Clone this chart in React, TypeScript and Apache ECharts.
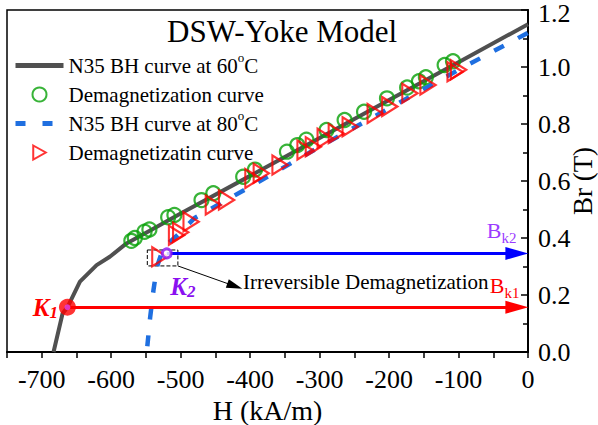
import React, { useEffect, useRef } from "react";
import * as echarts from "echarts";

const SERIF = "'Liberation Serif', 'Times New Roman', serif";

// N35 BH curve at 60°C
const curve60H = [-683, -670, -663, -645, -621, -602, -578, -540, -500, -400, -300, -200, -100, 0];
const curve60B = [0, 0.135, 0.157, 0.247, 0.305, 0.334, 0.381, 0.432, 0.486, 0.618, 0.751, 0.884, 1.017, 1.15];

// Demagnetization curve (circles)
const circH = [-571, -566, -552, -545, -518, -509, -470, -453, -410, -393, -347, -332, -319, -290, -264, -236, -203, -174, -157, -147, -120, -108];
const circB = [0.39, 0.4, 0.422, 0.43, 0.473, 0.481, 0.533, 0.557, 0.615, 0.64, 0.703, 0.726, 0.745, 0.779, 0.814, 0.843, 0.89, 0.928, 0.95, 0.964, 1.007, 1.02];

// N35 BH curve at 80°C
const curve80H = [-548, -544, -539, -534, -527, -516, -500, -480, -400, -300, -200, -100, 0];
const curve80B = [0.02, 0.12, 0.22, 0.3, 0.35, 0.385, 0.42, 0.47, 0.58, 0.72, 0.855, 0.99, 1.12];

// Demagnetizatin curve (triangles)
const triH = [-530, -506, -500, -485, -453, -434, -396, -384, -357, -321, -309, -292, -276, -256, -220, -199, -170, -144, -105, -100];
const triB = [0.334, 0.41, 0.42, 0.457, 0.516, 0.533, 0.609, 0.627, 0.656, 0.709, 0.72, 0.75, 0.767, 0.79, 0.837, 0.861, 0.908, 0.937, 0.983, 0.99];

const K1 = [-663, 0.157];
const K2 = [-520, 0.346];
const boxCorner1 = [-548, 0.358];
const boxCorner2 = [-504, 0.302];
const noteArrowEnd = [-422, 0.231];
const noteAnchor = [-411, 0.246];
const arrowEndH = -16;

const names = [
  "N35 BH curve at 60°C",
  "Demagnetization curve",
  "N35 BH curve at 80°C",
  "Demagnetizatin curve",
];

const TRI_PATH = "path://M0,0L17,9.5L0,19Z";

const zip = (a: number[], b: number[]) => a.map((v, i) => [v, b[i]]);

export default function App() {
  const ref = useRef<HTMLDivElement>(null);
  useEffect(() => {
    document.body.style.margin = "0";
    if (!ref.current) return;
    const chart = echarts.init(ref.current, undefined, { renderer: "svg" });
    const red = "#ff0000";
    const purple = "#8a10f0";
    const violet = "#9b3cff";
    const blue = "#0000ff";
    const gray = "#505050";
    const green = "#06a006";
    const dashBlue = "#1f6fe0";
    const option: any = {
      animation: false,
      title: {
        text: "DSW-Yoke Model",
        left: 167,
        top: 16,
        padding: 0,
        textStyle: { fontFamily: SERIF, fontSize: 31, fontWeight: "normal", color: "#000" },
      },
      legend: {
        data: [
          { name: names[0], itemStyle: { opacity: 0 }, lineStyle: { width: 5, color: gray } },
          { name: names[1] },
          { name: names[2], itemStyle: { opacity: 0 }, lineStyle: { width: 5, color: dashBlue, type: [10, 17] } },
          { name: names[3] },
        ],
        orient: "vertical",
        left: 13,
        top: 51,
        padding: 0,
        itemWidth: 48,
        itemHeight: 14,
        itemGap: 0,
        symbolKeepAspect: true,
        selectedMode: false,
        formatter: (n: string) => n.replace("°", "{sup|o}"),
        textStyle: {
          fontFamily: SERIF,
          fontSize: 21,
          lineHeight: 29,
          color: "#000",
          rich: {
            sup: { fontFamily: SERIF, fontSize: 13, lineHeight: 21, verticalAlign: "top", color: "#000" },
          },
        },
      },
      grid: {
        left: 7,
        right: 70,
        top: 10,
        bottom: 73,
        show: true,
        borderColor: "#000",
        borderWidth: 1.5,
        containLabel: false,
        outerBoundsMode: "none",
      },
      xAxis: {
        type: "value",
        min: -750,
        max: 0,
        interval: 50,
        name: "H (kA/m)",
        nameLocation: "middle",
        nameGap: 44,
        nameMoveOverlap: false,
        nameTextStyle: { fontFamily: SERIF, fontSize: 28, lineHeight: 28, color: "#000" },
        axisLine: { show: true, onZero: false, lineStyle: { color: "#000", width: 2 } },
        axisTick: { show: true, inside: false, length: 6, lineStyle: { color: "#000", width: 1.5 } },
        axisLabel: {
          fontFamily: SERIF,
          fontSize: 26,
          lineHeight: 22,
          color: "#000",
          margin: 16,
          formatter: (v: number) => (Math.round(v) % 100 === 0 ? String(Math.round(v)) : ""),
        },
        splitLine: { show: false },
      },
      yAxis: {
        type: "value",
        position: "right",
        min: 0,
        max: 1.2,
        interval: 0.2,
        name: "Br (T)",
        nameLocation: "middle",
        nameRotate: 90,
        nameGap: 44,
        nameMoveOverlap: false,
        nameTextStyle: { fontFamily: SERIF, fontSize: 27, lineHeight: 22, color: "#000" },
        axisLine: { show: true, lineStyle: { color: "#000", width: 2 } },
        axisTick: { show: true, inside: true, length: 7, lineStyle: { color: "#000", width: 1.5 } },
        minorTick: { show: true, splitNumber: 2, length: 5, lineStyle: { color: "#000", width: 1.5 } },
        axisLabel: {
          fontFamily: SERIF,
          fontSize: 26,
          lineHeight: 16,
          color: "#000",
          margin: 10,
          formatter: (v: number) => (v >= 1.19 ? "{t|" + v.toFixed(1) + "}" : v.toFixed(1)),
          rich: {
            t: { fontFamily: SERIF, fontSize: 26, lineHeight: 16, color: "#000", padding: [6, 0, 0, 0] },
          },
        },
        splitLine: { show: false },
        minorSplitLine: { show: false },
      },
      series: [
        {
          name: names[0],
          type: "line",
          data: zip(curve60H, curve60B),
          symbol: "none",
          lineStyle: { color: gray, width: 4 },
          itemStyle: { color: gray },
          z: 2,
        },
        {
          name: names[1],
          type: "scatter",
          data: zip(circH, circB),
          symbol: "circle",
          symbolSize: 14,
          itemStyle: { color: "rgba(255,255,255,0)", borderColor: green, borderWidth: 2.2 },
          z: 3,
        },
        {
          name: names[2],
          type: "line",
          data: zip(curve80H, curve80B),
          symbol: "none",
          lineStyle: { color: dashBlue, width: 4.5, type: [11, 16] },
          itemStyle: { color: dashBlue },
          z: 4,
        },
        {
          name: names[3],
          type: "scatter",
          data: zip(triH, triB),
          symbol: TRI_PATH,
          symbolKeepAspect: true,
          symbolSize: [17, 19],
          itemStyle: { color: "rgba(255,255,255,0)", borderColor: red, borderWidth: 2.2 },
          z: 5,
        },
        {
          name: "K points",
          type: "scatter",
          clip: false,
          z: 10,
          data: [
            { value: K1, symbolSize: 17, itemStyle: { color: red } },
            { value: K1, symbolSize: 6, itemStyle: { color: "#e040e8" } },
            { value: K2, symbolSize: 9, itemStyle: { color: "#fff", borderColor: purple, borderWidth: 3 } },
          ],
          markLine: {
            silent: true,
            animation: false,
            label: { show: false },
            emphasis: { disabled: true },
            symbol: ["none", "triangle"],
            data: [
              [
                { coord: K1, lineStyle: { color: red, width: 3, type: "solid" } },
                { coord: [arrowEndH, K1[1]], symbol: "triangle", symbolSize: [13, 23] },
              ],
              [
                { coord: K2, lineStyle: { color: blue, width: 3, type: "solid" } },
                { coord: [arrowEndH, K2[1]], symbol: "triangle", symbolSize: [13, 23] },
              ],
              [
                { coord: boxCorner2, lineStyle: { color: "#000", width: 1, type: "solid" } },
                { coord: noteArrowEnd, symbol: "triangle", symbolSize: [9, 16] },
              ],
            ],
          },
          markArea: {
            silent: true,
            label: { show: false },
            itemStyle: { color: "rgba(0,0,0,0)", borderColor: "#000", borderWidth: 1, borderType: "dashed" },
            data: [[{ coord: boxCorner1 }, { coord: boxCorner2 }]],
          },
          markPoint: {
            silent: true,
            symbol: "circle",
            symbolSize: 1,
            itemStyle: { color: "rgba(0,0,0,0)" },
            data: [
              {
                coord: K1,
                label: {
                  show: true,
                  position: "left",
                  distance: 9,
                  formatter: "{k|K}{s|1}",
                  rich: {
                    k: { fontFamily: SERIF, fontSize: 25, fontWeight: "bold", fontStyle: "italic", color: red, lineHeight: 28 },
                    s: { fontFamily: SERIF, fontSize: 17, fontWeight: "bold", fontStyle: "italic", color: red, lineHeight: 14, verticalAlign: "bottom" },
                  },
                },
              },
              {
                coord: K2,
                label: {
                  show: true,
                  position: "right",
                  distance: 3,
                  offset: [0, 33],
                  formatter: "{k|K}{s|2}",
                  rich: {
                    k: { fontFamily: SERIF, fontSize: 25, fontWeight: "bold", fontStyle: "italic", color: purple, lineHeight: 28 },
                    s: { fontFamily: SERIF, fontSize: 17, fontWeight: "bold", fontStyle: "italic", color: purple, lineHeight: 14, verticalAlign: "bottom" },
                  },
                },
              },
              {
                coord: [0, K2[1]],
                label: {
                  show: true,
                  position: "left",
                  distance: 11,
                  offset: [0, -23],
                  formatter: "{b|B}{s|k2}",
                  rich: {
                    b: { fontFamily: SERIF, fontSize: 22, color: violet, lineHeight: 30 },
                    s: { fontFamily: SERIF, fontSize: 15, color: violet, lineHeight: 13, verticalAlign: "bottom" },
                  },
                },
              },
              {
                coord: [0, K1[1]],
                label: {
                  show: true,
                  position: "left",
                  distance: 8,
                  offset: [0, -22],
                  formatter: "{b|B}{s|k1}",
                  rich: {
                    b: { fontFamily: SERIF, fontSize: 22, color: red, lineHeight: 30 },
                    s: { fontFamily: SERIF, fontSize: 15, color: red, lineHeight: 13, verticalAlign: "bottom" },
                  },
                },
              },
              {
                coord: noteAnchor,
                label: {
                  show: true,
                  position: "right",
                  distance: 0,
                  formatter: "Irreversible Demagnetization",
                  fontFamily: SERIF,
                  fontSize: 21,
                  color: "#000",
                },
              },
            ],
          },
        },
      ],
    };
    chart.setOption(option);
    return () => chart.dispose();
  }, []);
  return <div ref={ref} style={{ width: 598, height: 425 }} />;
}
